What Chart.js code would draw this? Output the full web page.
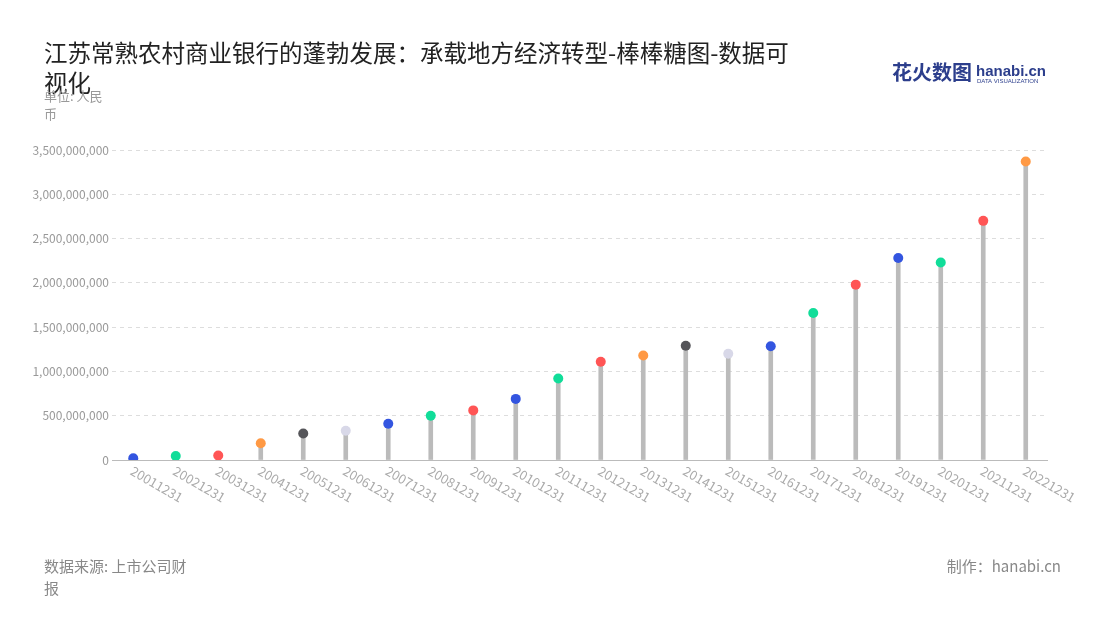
<!DOCTYPE html>
<html><head><meta charset="utf-8">
<script src="https://cdn.jsdelivr.net/npm/chart.js@4"></script>
<style>html,body{margin:0;padding:0;background:#fff;}#w{position:relative;width:1100px;height:620px;}</style>
</head><body><div id="w"><canvas id="c" width="1100" height="620"></canvas></div>
<script>
const categories=['20011231','20021231','20031231','20041231','20051231','20061231','20071231','20081231','20091231','20101231','20111231','20121231','20131231','20141231','20151231','20161231','20171231','20181231','20191231','20201231','20211231','20221231'];
const values=[20000000,45000000,50000000,190000000,300000000,330000000,410000000,500000000,560000000,690000000,920000000,1110000000,1180000000,1290000000,1200000000,1285000000,1660000000,1980000000,2280000000,2230000000,2700000000,3370000000];
const dotColors=['#3355e0','#11dd99','#ff5555','#ff9944','#555559','#d8d8e8','#3355e0','#11dd99','#ff5555','#3355e0','#11dd99','#ff5555','#ff9944','#555559','#d8d8e8','#3355e0','#11dd99','#ff5555','#3355e0','#11dd99','#ff5555','#ff9944'];
const F='"Noto Sans CJK SC","Noto Sans",sans-serif';
const deco={id:'deco',afterDraw(ch){const c=ch.ctx;c.save();
c.fillStyle='#222';c.font='23.5px '+F;c.textBaseline='alphabetic';
c.fillText('江苏常熟农村商业银行的蓬勃发展：承载地方经济转型-棒棒糖图-数据可',44,62);
c.fillText('视化',44,92);
c.fillStyle='#999';c.font='13px '+F;c.fillText('单位: 人民',44,101);c.fillText('币',44,119);
c.fillStyle='#888';c.font='15px '+F;c.fillText('数据来源: 上市公司财',44,572);c.fillText('报',44,594);
c.textAlign='right';c.fillText('制作：hanabi.cn',1061,572);
c.font='bold 20px '+F;c.fillStyle='#2c3e8c';c.textAlign='left';c.fillText('花火数图',892,80);
c.font='bold 15px sans-serif';c.fillText('hanabi.cn',976,76);c.font='6px sans-serif';c.fillText('DATA VISUALIZATION',977,83);
const x=ch.scales.x,y=ch.scales.y;c.fillStyle='#aaa';c.font='13px '+F;c.textAlign='left';
categories.forEach((l,i)=>{const px=x.getPixelForValue(i);c.save();c.translate(px-4,y.bottom+14);c.rotate(Math.PI/6);c.fillText(l,0,0);c.restore();});
c.restore();}};
new Chart(document.getElementById('c'),{
data:{labels:categories,datasets:[
{type:'scatter',data:values.map((v,i)=>({x:i,y:v})),pointRadius:5,pointHoverRadius:5,pointBackgroundColor:dotColors,pointBorderWidth:0,order:0,xAxisID:'x'},
{type:'bar',data:values,backgroundColor:'#bbbbbb',barThickness:4,order:1}]},
options:{responsive:false,animation:false,events:[],
layout:{padding:{top:150,bottom:152,left:0,right:53}},
plugins:{legend:{display:false},tooltip:{enabled:false}},
scales:{x:{type:'category',offset:true,grid:{display:false},border:{color:'#bbb'},ticks:{display:false}},
y:{min:0,max:3500000000,ticks:{stepSize:500000000,color:'#999',font:{size:12,family:F},callback:v=>v.toLocaleString('en-US')},
afterFit(s){s.width=112;},grid:{color:'#ddd',tickLength:0},border:{display:false,dash:[4,4]}}}},
plugins:[deco]});
</script></body></html>
